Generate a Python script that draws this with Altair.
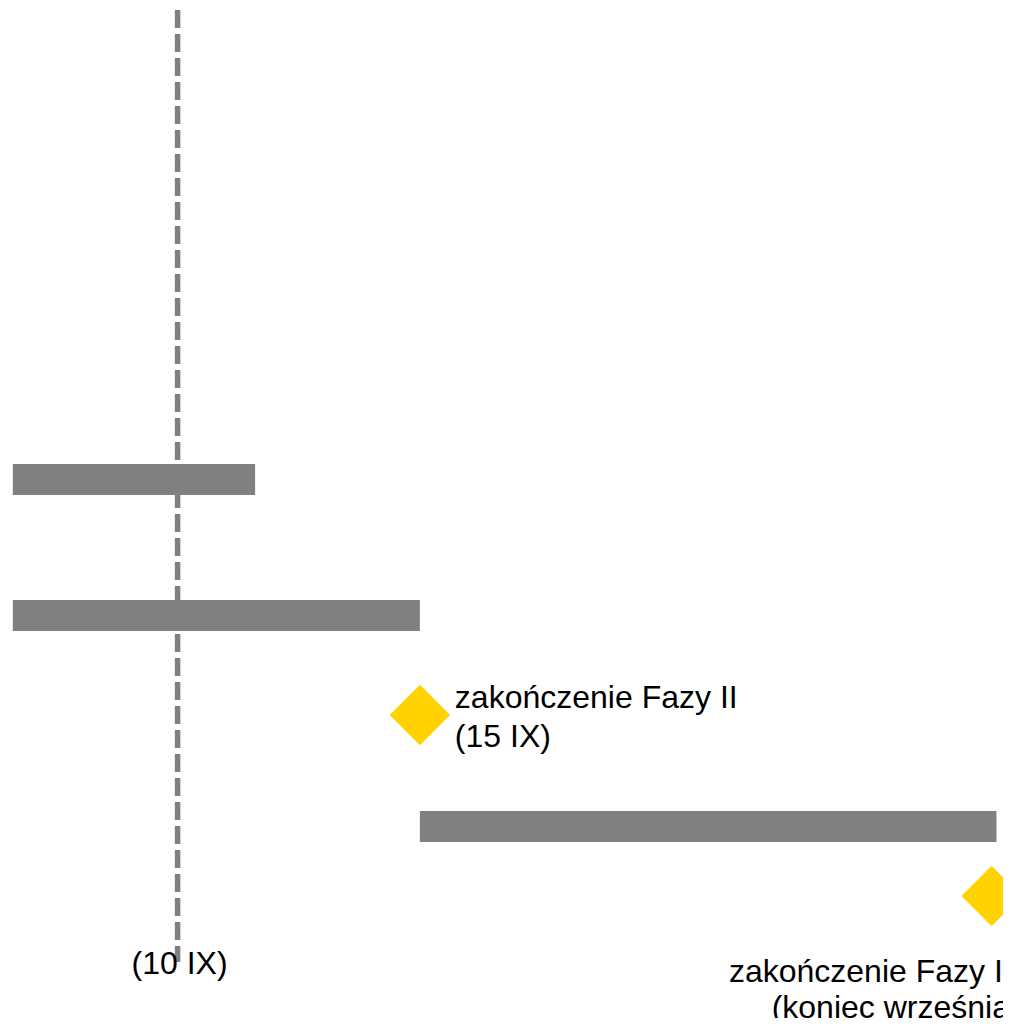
import altair as alt
import pandas as pd

# --- data (schematic timeline, x in "days of September") ---
task_start = [6.6, 6.6, 15.0]
task_end = [11.6, 15.0, 26.9]
task_top = [45.6, 59.2, 80.3]      # vertical position units (10 px each)
task_bottom = [48.7, 62.3, 83.4]

milestone_day = [15.0, 26.8]
milestone_pos = [70.7, 88.8]
milestone_label = ["zakończenie Fazy II\n(15 IX)", "zakończenie Fazy III\n(koniec września)"]
milestone_label_pos = [70.0, 97.4]

marker_day = [10.0]
marker_from = [0.2]
marker_to = [95.4]
marker_label = ["(10 IX)"]
marker_label_pos = [96.6]

PX_PER_DAY = 1003 / 20.7
W, H = 995, 1010
X_DOMAIN = [6.5, 6.5 + W / PX_PER_DAY]
Y_DOMAIN = [0, H / 10]

tasks = pd.DataFrame({"start": task_start, "end": task_end, "top": task_top, "bottom": task_bottom})
miles = pd.DataFrame({"day": milestone_day, "pos": milestone_pos,
                      "label": milestone_label, "label_pos": milestone_label_pos})
marker = pd.DataFrame({"day": marker_day, "y0": marker_from, "y1": marker_to,
                       "label": marker_label, "label_pos": marker_label_pos})

xs = alt.Scale(domain=X_DOMAIN, nice=False, zero=False)
ys = alt.Scale(domain=Y_DOMAIN, nice=False, zero=False, reverse=True)

FONT = "Liberation Sans, Arial, Helvetica, sans-serif"

rule = alt.Chart(marker).mark_rule(
    color="#808080", strokeWidth=5.5, strokeDash=[18, 6], strokeCap="butt"
).encode(
    x=alt.X("day:Q", scale=xs, axis=None),
    y=alt.Y("y0:Q", scale=ys, axis=None),
    y2="y1:Q",
)

rule_text = alt.Chart(marker).mark_text(
    font=FONT, fontSize=32, color="#000000", align="center", baseline="alphabetic", dx=2
).encode(
    x=alt.X("day:Q", scale=xs, axis=None),
    y=alt.Y("label_pos:Q", scale=ys, axis=None),
    text="label:N",
)

bars = alt.Chart(tasks).mark_rect(color="#808080").encode(
    x=alt.X("start:Q", scale=xs, axis=None),
    x2="end:Q",
    y=alt.Y("top:Q", scale=ys, axis=None),
    y2="bottom:Q",
)

diamonds = alt.Chart(miles).mark_point(
    shape="diamond", filled=True, color="#FFD200", opacity=1, size=3650, strokeWidth=0
).encode(
    x=alt.X("day:Q", scale=xs, axis=None),
    y=alt.Y("pos:Q", scale=ys, axis=None),
)

label1 = alt.Chart(miles.iloc[[0]]).mark_text(
    font=FONT, fontSize=32, color="#000000", align="left", baseline="alphabetic",
    dx=35, lineBreak="\n", lineHeight=39
).encode(
    x=alt.X("day:Q", scale=xs, axis=None),
    y=alt.Y("label_pos:Q", scale=ys, axis=None),
    text="label:N",
)

label2 = alt.Chart(miles.iloc[[1]]).mark_text(
    font=FONT, fontSize=32, color="#000000", align="right", baseline="alphabetic",
    dx=29, lineBreak="\n", lineHeight=36
).encode(
    x=alt.X("day:Q", scale=xs, axis=None),
    y=alt.Y("label_pos:Q", scale=ys, axis=None),
    text="label:N",
)

chart = alt.layer(rule, rule_text, bars, diamonds, label1, label2).properties(
    width=W, height=H,
    autosize=alt.AutoSizeParams(type="none"),
    padding=0,
    background="#ffffff",
).configure_view(stroke=None)

chart.save("out.html", embed_options={"renderer": "svg", "actions": False})
